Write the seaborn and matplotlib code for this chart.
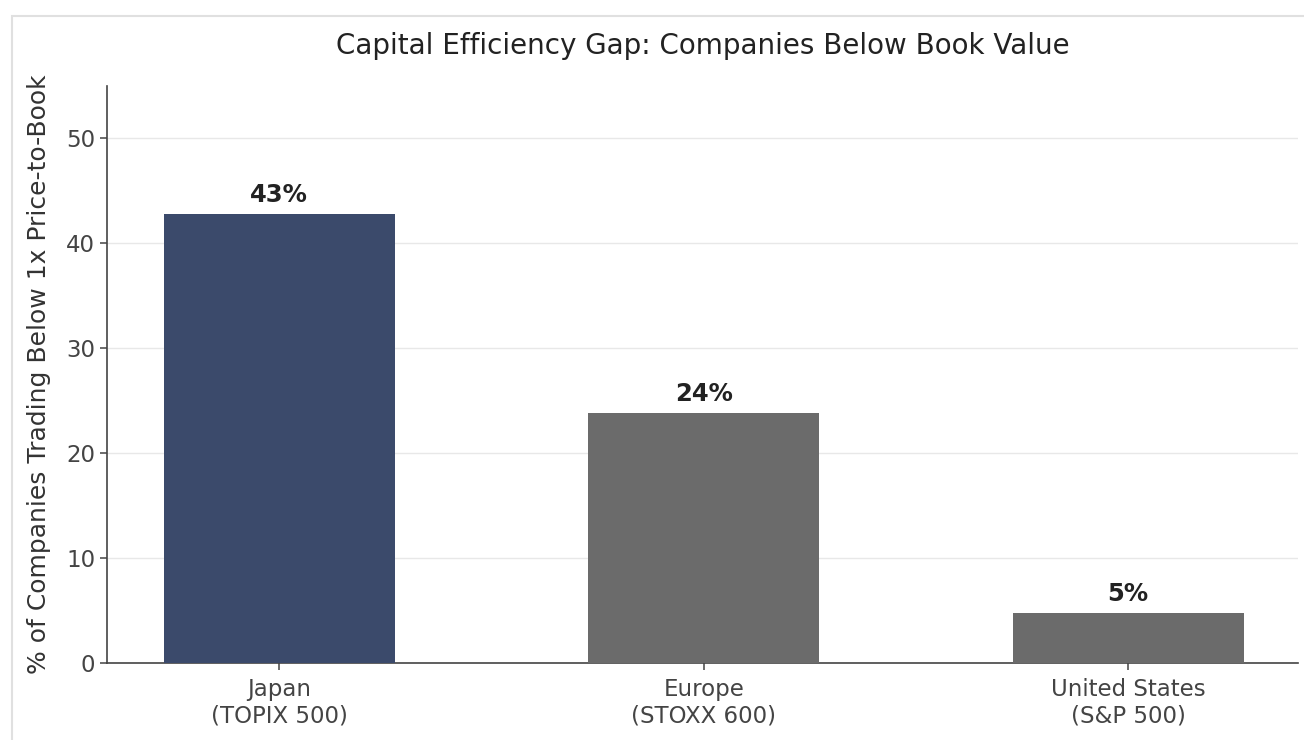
import matplotlib
matplotlib.use("Agg")
import matplotlib.pyplot as plt
import seaborn as sns
import pandas as pd
from matplotlib.patches import Rectangle

categories = ["Japan\n(TOPIX 500)", "Europe\n(STOXX 600)", "United States\n(S&P 500)"]
values = [42.8, 23.8, 4.8]
labels = ["43%", "24%", "5%"]
colors = ["#3B4A6B", "#6B6B6B", "#6B6B6B"]

sns.set_theme(style="ticks")
plt.rcParams['font.family'] = ['DejaVu Sans']

df = pd.DataFrame({"region": categories, "pct": values})

fig = plt.figure(figsize=(13.04, 7.4), dpi=100)
ax = fig.add_axes([107/1304, 1 - 663/740, (1298 - 107)/1304, (663 - 86)/740])

sns.barplot(data=df, x="region", y="pct", hue="region", palette=colors,
            width=0.545, legend=False, ax=ax, zorder=3, saturation=1, linewidth=0)

ax.set_ylim(0, 55)
ax.set_xlim(-0.406, 2.4)
ax.set_yticks([0, 10, 20, 30, 40, 50])
ax.yaxis.grid(True, color="#E8E8E8", linewidth=1.0, zorder=0)
ax.set_axisbelow(True)
sns.despine(ax=ax)
for s in ["left", "bottom"]:
    ax.spines[s].set_color("#444444")
    ax.spines[s].set_linewidth(1.2)
ax.tick_params(axis="both", colors="#444444", labelsize=16.5, length=5, width=1.1, labelcolor="#444444")
ax.tick_params(axis="x", pad=6)
ax.set_xlabel("")
ax.set_ylabel("% of Companies Trading Below 1x Price-to-Book", fontsize=18, color="#333333", labelpad=11)
ax.set_title("Capital Efficiency Gap: Companies Below Book Value", fontsize=20, color="#222222", pad=23)

for i, (v, lab) in enumerate(zip(values, labels)):
    ax.annotate(lab, (i, v), xytext=(0, 5), textcoords="offset points",
                ha="center", va="bottom", fontsize=17.5, fontweight="bold", color="#222222")

fig.patches.append(Rectangle((12/1304, -0.1), 1.2, 1 - 16/740 + 0.1, transform=fig.transFigure,
                             fill=False, edgecolor="#E0E0E0", linewidth=1.5, zorder=-1))

fig.savefig("out.png", dpi=100)
